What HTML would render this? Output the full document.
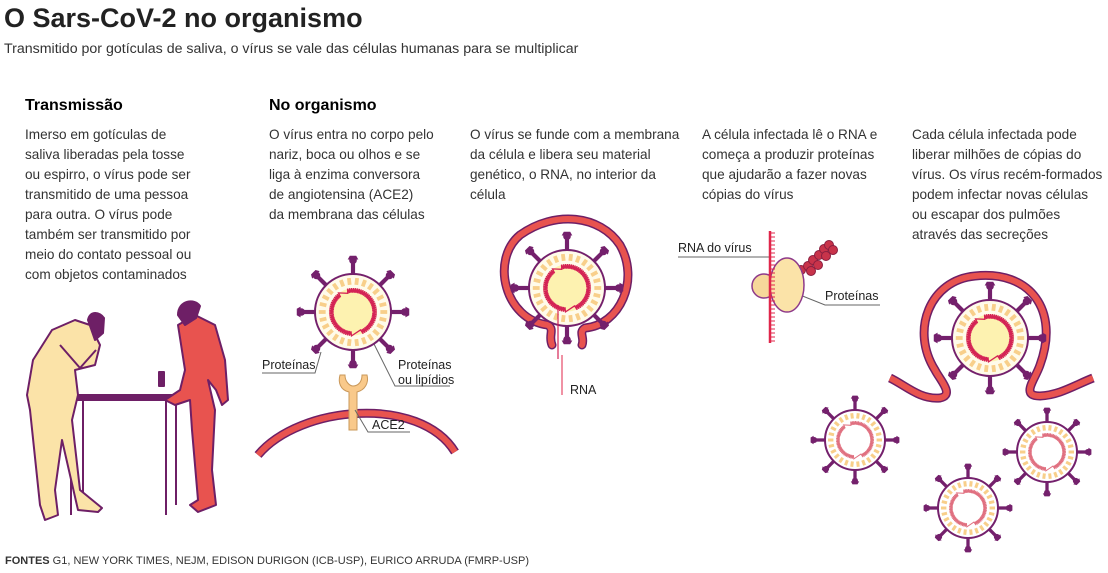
<!DOCTYPE html>
<html><head><meta charset="utf-8"><style>
body{margin:0;width:1108px;height:573px;background:#fff;overflow:hidden;font-family:"Liberation Sans",sans-serif;color:#222}
svg{position:absolute;left:0;top:0}
</style></head><body>
<svg id="s" width="1108" height="573" viewBox="0 0 1108 573" font-family="Liberation Sans, sans-serif">
<text x="4" y="27" font-size="27" font-weight="bold" fill="#222">O Sars-CoV-2 no organismo</text>
<text x="4" y="53" font-size="14.2" fill="#333">Transmitido por gotículas de saliva, o vírus se vale das células humanas para se multiplicar</text>
<text x="25" y="110" font-size="16" font-weight="bold">Transmissão</text>
<text x="269" y="110" font-size="16" font-weight="bold">No organismo</text>
<g font-size="13.6" fill="#333">
<text x="25" y="139">Imerso em gotículas de</text>
<text x="25" y="159">saliva liberadas pela tosse</text>
<text x="25" y="179">ou espirro, o vírus pode ser</text>
<text x="25" y="199">transmitido de uma pessoa</text>
<text x="25" y="219">para outra. O vírus pode</text>
<text x="25" y="239">também ser transmitido por</text>
<text x="25" y="259">meio do contato pessoal ou</text>
<text x="25" y="279">com objetos contaminados</text>
<text x="269" y="139">O vírus entra no corpo pelo</text>
<text x="269" y="159">nariz, boca ou olhos e se</text>
<text x="269" y="179">liga à enzima conversora</text>
<text x="269" y="199">de angiotensina (ACE2)</text>
<text x="269" y="219">da membrana das células</text>
<text x="470" y="139">O vírus se funde com a membrana</text>
<text x="470" y="159">da célula e libera seu material</text>
<text x="470" y="179">genético, o RNA, no interior da</text>
<text x="470" y="199">célula</text>
<text x="702" y="139">A célula infectada lê o RNA e</text>
<text x="702" y="159">começa a produzir proteínas</text>
<text x="702" y="179">que ajudarão a fazer novas</text>
<text x="702" y="199">cópias do vírus</text>
<text x="912" y="139">Cada célula infectada pode</text>
<text x="912" y="159">liberar milhões de cópias do</text>
<text x="912" y="179">vírus. Os vírus recém-formados</text>
<text x="912" y="199">podem infectar novas células</text>
<text x="912" y="219">ou escapar dos pulmões</text>
<text x="912" y="239">através das secreções</text>
</g>
<text x="5" y="564" font-size="11" fill="#333"><tspan font-weight="bold">FONTES</tspan>  G1, NEW YORK TIMES, NEJM, EDISON DURIGON (ICB-USP), EURICO ARRUDA (FMRP-USP)</text>

<!-- stage 1 people & table -->
<g stroke="#6e1f66" stroke-width="2" stroke-linejoin="round">
<rect x="63" y="395" width="122" height="5" fill="#6e1f66"/>
<line x1="71" y1="400" x2="71" y2="515"/><line x1="83" y1="400" x2="83" y2="505"/>
<line x1="166" y1="400" x2="166" y2="515"/><line x1="176" y1="400" x2="176" y2="505"/>
<path d="M52 330 L75 320 L90 325 L100 345 L95 365 L75 370 L78 395 L72 420 L80 490 L102 508 L98 512 L78 510 L62 440 L55 490 L58 515 L45 520 L40 505 L30 410 L27 395 L33 360 Z" fill="#fbe3a8"/>
<path d="M88 320 C90 310 100 312 104 318 L103 333 L95 340 Z" fill="#6e1f66"/>
<path d="M60 345 L80 368 L96 350" fill="none"/>
<path d="M178 325 L195 315 L215 325 L225 360 L228 400 L222 405 L216 390 L208 380 L215 410 L212 470 L216 505 L198 512 L190 505 L198 500 L192 430 L190 400 L175 405 L165 400 L180 390 L185 370 Z" fill="#e8534f"/>
<path d="M178 315 C178 300 195 298 200 306 L196 318 L185 325 Z" fill="#6e1f66"/>
<rect x="159" y="372" width="5" height="14" fill="#6e1f66"/>
</g>

<!-- stage 2 -->
<path d="M258 455 C300 405 420 395 455 452" fill="none" stroke="#6e1f66" stroke-width="9"/>
<path d="M258 455 C300 405 420 395 455 452" fill="none" stroke="#e8534f" stroke-width="6"/>
<path d="M349 430 L349 392 C340 390 338 382 340 375 L345 375 C345 382 350 386 353 386 C358 386 362 382 362 375 L367 375 C369 383 365 390 357 392 L357 430 Z" fill="#f9c98a" stroke="#c9985a" stroke-width="1"/>
<g fill="none" stroke="#666" stroke-width="1">
<polyline points="262,373 315,373 321,352"/>
<polyline points="450,386 395,386 372,340"/>
<polyline points="355,410 368,432 410,432"/>
<polyline points="678,257 770,257"/>
<polyline points="800,295 825,305 880,305"/>
</g>
<g font-size="12.5" fill="#222">
<text x="262" y="369">Proteínas</text>
<text x="398" y="369">Proteínas</text>
<text x="398" y="384">ou lipídios</text>
<text x="372" y="429">ACE2</text>
<text x="570" y="394">RNA</text>
<text x="678" y="252">RNA do vírus</text>
<text x="825" y="300">Proteínas</text>
</g>

<!-- stage 3 membrane -->
<path d="M552 345 C548 335 555 330 548 325 C505 320 490 260 520 235 C555 210 600 215 620 245 C640 280 620 325 585 328 C578 332 585 338 582 345" fill="none" stroke="#6e1f66" stroke-width="9" stroke-linecap="round"/>
<path d="M552 345 C548 335 555 330 548 325 C505 320 490 260 520 235 C555 210 600 215 620 245 C640 280 620 325 585 328 C578 332 585 338 582 345" fill="none" stroke="#e8534f" stroke-width="6" stroke-linecap="round"/>
<line x1="562" y1="355" x2="562" y2="395" stroke="#e0264a" stroke-width="1"/>

<!-- stage 4 -->
<g fill="#c8334a" stroke="#8a1f40">
<circle cx="801" cy="270" r="4.5"/><circle cx="808" cy="266" r="4.5"/><circle cx="813" cy="260" r="4.5"/>
<circle cx="819" cy="255" r="4.5"/><circle cx="824" cy="249" r="4.5"/><circle cx="829" cy="245" r="4.5"/>
<circle cx="811" cy="271" r="4.5"/><circle cx="818" cy="265" r="4.5"/><circle cx="826" cy="256" r="4.5"/><circle cx="833" cy="250" r="4.5"/>
</g>
<circle cx="764" cy="286" r="12" fill="#f6d79a" stroke="#8e3a8a" stroke-width="1.5"/>
<ellipse cx="787" cy="285" rx="17" ry="27" fill="#fbe3a8" stroke="#8e3a8a" stroke-width="1.5"/>
<line x1="770" y1="231" x2="770" y2="343" stroke="#e0264a" stroke-width="2.5"/>
<g id="ticks"></g>

<!-- stage 5 membrane -->
<path d="M890 378 C905 385 920 400 940 398 C955 395 940 380 935 370 C910 330 930 280 975 276 C1030 270 1060 310 1040 365 C1035 380 1020 396 1040 396 C1060 395 1075 385 1093 378" fill="none" stroke="#6e1f66" stroke-width="9"/>
<path d="M890 378 C905 385 920 400 940 398 C955 395 940 380 935 370 C910 330 930 280 975 276 C1030 270 1060 310 1040 365 C1035 380 1020 396 1040 396 C1060 395 1075 385 1093 378" fill="none" stroke="#e8534f" stroke-width="6"/>
<g id="v"></g>
</svg>
<script>
var NS="http://www.w3.org/2000/svg",g=document.getElementById('v');
function el(t,a,p){var e=document.createElementNS(NS,t);for(var k in a)e.setAttribute(k,a[k]);(p||g).appendChild(e);return e;}
var t=document.getElementById('ticks');
for(var y=233;y<343;y+=4)el('line',{x1:770,y1:y,x2:775,y2:y,stroke:'#e0264a','stroke-width':1},t);
function virus(cx,cy,r,full,rot){
 rot=rot||0;
 for(var i=0;i<8;i++){var a=rot+i*Math.PI/4,c=Math.cos(a),s=Math.sin(a);
  el('line',{x1:cx+c*r,y1:cy+s*r,x2:cx+c*r*1.38,y2:cy+s*r*1.38,stroke:'#74206c','stroke-width':r*0.11});
  var tx=cx+c*r*1.38,ty=cy+s*r*1.38,w=r*0.14;
  el('path',{d:'M'+(tx-s*w)+' '+(ty+c*w)+' L'+(tx+s*w)+' '+(ty-c*w)+' L'+(tx+c*r*0.1+s*w*0.6)+' '+(ty+s*r*0.1-c*w*0.6)+' L'+(tx+c*r*0.1-s*w*0.6)+' '+(ty+s*r*0.1+c*w*0.6)+'Z',fill:'#74206c'});
  el('circle',{cx:tx-c*r*0.02,cy:ty-s*r*0.02,r:r*0.1,fill:'#74206c'});
 }
 el('circle',{cx:cx,cy:cy,r:r,fill:full?'#fffbea':'#fff',stroke:'#74206c','stroke-width':2});
 for(var i=0;i<26;i++){var a=i*2*Math.PI/26;
  el('line',{x1:cx+Math.cos(a)*r*0.72,y1:cy+Math.sin(a)*r*0.72,x2:cx+Math.cos(a)*r*0.9,y2:cy+Math.sin(a)*r*0.9,stroke:'#f8cf8a','stroke-width':r*0.1});}
 if(full)el('circle',{cx:cx,cy:cy,r:r*0.62,fill:'#fdf2b0'});
 var pts=[];for(var k=0;k<=150;k++){var a=k/150*2*Math.PI;if((a>1.2&&a<1.6)||(a>4.1&&a<4.4))continue;var rr=r*(0.56+(k%2?0.07:-0.05));pts.push((cx+Math.cos(a)*rr).toFixed(1)+','+(cy+Math.sin(a)*rr).toFixed(1));}
 el('polyline',{points:pts.join(' '),fill:'none',stroke:full?'#d42355':'#e07080','stroke-width':full?1.3:1});
}
virus(353,312,38,true,0);
virus(567,288,38,true,0);
virus(990,338,38,true,0);
virus(855,440,30,false,0);
virus(1047,452,30,false,0);
virus(968,508,30,false,0);
var z=[];for(var y=305;y<360;y+=2)z.push(((y%4)?558:567)+','+y);
el('polyline',{points:z.join(' '),fill:'none',stroke:'#d42355','stroke-width':1.2});
</script>
</body></html>
